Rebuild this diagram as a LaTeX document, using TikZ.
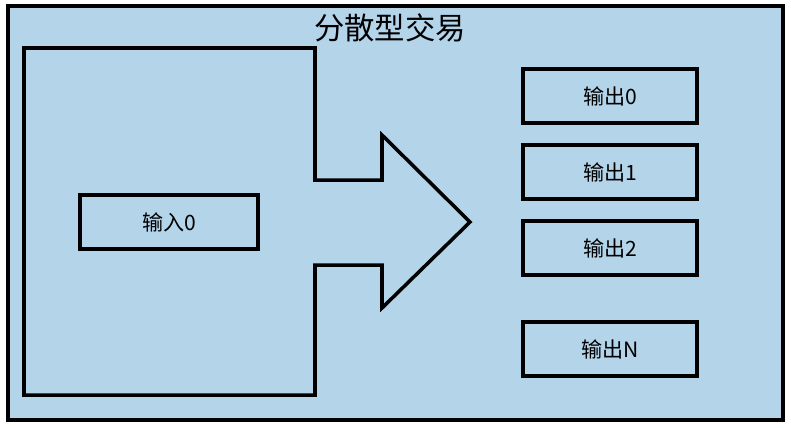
\documentclass[tikz,border=0pt]{standalone}
\usepackage{fontspec}
\setmainfont{Noto Sans CJK SC}
\definecolor{bgblue}{RGB}{180,212,234}
\tikzset{
  box/.style={rectangle, draw, line width=2pt, minimum width=3.48cm, minimum height=1.08cm, font=\large},
}
\begin{document}
\begin{tikzpicture}[x=0.02cm, y=-0.02cm]
        \useasboundingbox (0,0) rectangle (791,427);
        % Frame
        \draw[line width=2pt, fill=bgblue] (8,6) rectangle (783,420);
        \node[font=\LARGE] (title) at (390,28) {分散型交易};
        % Arrow
        \draw[line width=2pt, line join=miter] (24,48) -- (315,48) -- (315,180) -- (382,180) -- (382,135)
            -- (470,222) -- (382,308) -- (382,265) -- (315,265) -- (315,395) -- (24,395) -- cycle;
        % Input
        \node[box, minimum width=3.56cm] (in0) at (169,222) {输入0};
        % Outputs
        \node[box] (out0) at (610,96) {输出0};
        \node[box] (out1) at (610,172) {输出1};
        \node[box] (out2) at (610,248) {输出2};
        \node[box] (outN) at (610,349) {输出N};
    \end{tikzpicture}
\end{document}
